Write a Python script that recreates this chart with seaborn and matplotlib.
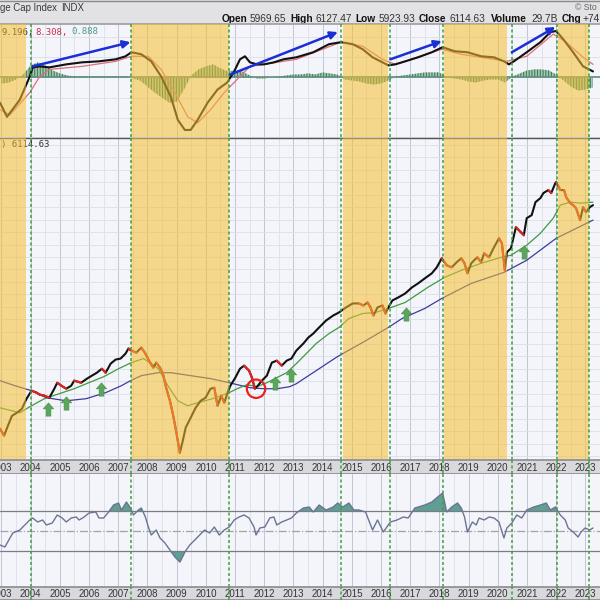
import numpy as np
import matplotlib.pyplot as plt
from matplotlib.path import Path
from matplotlib.ticker import FixedLocator, NullLocator
import seaborn as sns

sns.set_theme(style='white')
plt.rcParams['font.family'] = ['Liberation Sans', 'DejaVu Sans']
plt.rcParams['hatch.linewidth'] = 0.8

# --- weekly close (log scale) ---
price_t = [2002.95, 2003.09, 2003.22, 2003.36, 2003.53, 2003.70, 2003.86, 2004.03, 2004.20, 2004.31,
           2004.47, 2004.64, 2004.81, 2004.91, 2005.05, 2005.22, 2005.39, 2005.49, 2005.73, 2005.93,
           2006.10, 2006.27, 2006.44, 2006.57, 2006.74, 2006.91, 2007.08, 2007.25, 2007.35, 2007.45,
           2007.62, 2007.79, 2007.93, 2008.09, 2008.20, 2008.30, 2008.43, 2008.53, 2008.64, 2008.77,
           2008.87, 2008.98, 2009.11, 2009.21, 2009.31, 2009.48, 2009.65, 2009.82, 2009.99, 2010.16,
           2010.29, 2010.40, 2010.53, 2010.63, 2010.77, 2010.84, 2011.01, 2011.17, 2011.31, 2011.48,
           2011.58, 2011.68, 2011.78, 2011.92, 2012.09, 2012.26, 2012.43, 2012.60, 2012.77, 2012.93,
           2013.10, 2013.34, 2013.51, 2013.68, 2013.88, 2014.12, 2014.36, 2014.56, 2014.80, 2015.03,
           2015.24, 2015.40, 2015.54, 2015.64, 2015.74, 2015.88, 2016.05, 2016.15, 2016.25, 2016.39,
           2016.59, 2016.83, 2017.06, 2017.27, 2017.50, 2017.74, 2017.91, 2018.08, 2018.25, 2018.42,
           2018.59, 2018.75, 2018.86, 2018.96, 2019.09, 2019.19, 2019.30, 2019.43, 2019.53, 2019.70,
           2019.87, 2020.04, 2020.14, 2020.24, 2020.31, 2020.45, 2020.62, 2020.79, 2020.89, 2020.99,
           2021.16, 2021.29, 2021.46, 2021.56, 2021.73, 2021.83, 2021.97, 2022.00, 2022.14, 2022.27,
           2022.34, 2022.48, 2022.58, 2022.68, 2022.82, 2022.92, 2023.02, 2023.15, 2023.26]
price_close = [813, 773, 830, 892, 912, 938, 1009, 1069, 1054, 1039,
               1031, 1016, 1084, 1132, 1108, 1084, 1108, 1149, 1132, 1166,
               1191, 1217, 1252, 1217, 1299, 1337, 1347, 1396, 1448, 1427,
               1406, 1458, 1396, 1308, 1262, 1308, 1262, 1209, 1092, 994,
               905, 801, 683, 745, 819, 879, 945, 994, 1016, 1084,
               1092, 959, 1031, 980, 1069, 1108, 1174, 1252, 1280, 1235,
               1174, 1084, 1108, 1149, 1191, 1308, 1327, 1280, 1327, 1347,
               1427, 1501, 1567, 1613, 1685, 1772, 1836, 1877, 1946, 2003,
               2003, 1974, 2018, 1946, 1836, 1946, 1974, 1863, 1946, 2047,
               2091, 2153, 2248, 2314, 2399, 2488, 2598, 2772, 2636, 2598,
               2694, 2772, 2674, 2488, 2674, 2733, 2792, 2694, 2874, 2792,
               3001, 3202, 3089, 2542, 2895, 2980, 3468, 3344, 3273, 3701,
               3782, 4153, 4276, 4433, 4530, 4433, 4765, 4799, 4530, 4530,
               4306, 4124, 4064, 3977, 3648, 4006, 3865, 4006, 4064]

# fast moving average (green)
sma_fast_t = [2002.95, 2003.63, 2004.03, 2004.47, 2004.98, 2005.49, 2005.99, 2006.51, 2007.01, 2007.45,
              2007.86, 2008.09, 2008.37, 2008.70, 2009.04, 2009.38, 2009.72, 2010.23, 2010.80, 2011.07,
              2011.41, 2011.75, 2012.09, 2012.43, 2012.77, 2013.10, 2013.44, 2013.78, 2014.22, 2014.56,
              2014.90, 2015.37, 2015.81, 2016.25, 2016.83, 2017.60, 2018.18, 2018.75, 2019.43, 2020.11,
              2020.45, 2020.99, 2021.46, 2021.90, 2022.14, 2022.48, 2022.82, 2023.26]
sma_fast = [945, 912, 959, 1009, 1046, 1084, 1132, 1183, 1252, 1308,
            1347, 1308, 1252, 1108, 994, 959, 980, 1009, 1054, 1084,
            1116, 1100, 1132, 1174, 1217, 1299, 1396, 1501, 1613, 1685,
            1797, 1863, 1877, 1932, 2018, 2248, 2417, 2542, 2674, 2792,
            2833, 3045, 3320, 3701, 4064, 4153, 4124, 4153]

# slow moving average (navy)
sma_slow_t = [2002.95, 2003.46, 2004.03, 2004.54, 2005.22, 2005.90, 2006.57, 2007.11, 2007.42, 2007.79,
              2008.37, 2008.80, 2009.48, 2010.16, 2010.80, 2011.51, 2011.99, 2012.43, 2012.87, 2013.10,
              2013.78, 2014.46, 2014.69, 2015.37, 2016.25, 2016.72, 2017.50, 2018.08, 2019.09, 2020.21,
              2020.99, 2022.00, 2023.26]
sma_slow = [1149, 1108, 1069, 1016, 994, 1009, 1054, 1108, 1149, 1191,
            1217, 1217, 1191, 1166, 1132, 1092, 1084, 1084, 1100, 1124,
            1235, 1357, 1396, 1512, 1685, 1797, 1932, 2076, 2314, 2505,
            2733, 3202, 3648]

# MACD panel
macd_t = [2002.95, 2003.19, 2003.63, 2003.97, 2004.07, 2004.31, 2004.64, 2005.22, 2005.76, 2006.34,
          2006.91, 2007.25, 2007.45, 2007.79, 2008.13, 2008.47, 2008.80, 2009.04, 2009.28, 2009.48,
          2009.72, 2010.06, 2010.40, 2010.73, 2010.97, 2011.17, 2011.34, 2011.51, 2011.75, 2011.99,
          2012.33, 2012.66, 2013.10, 2013.68, 2014.22, 2014.63, 2015.03, 2015.37, 2015.71, 2016.05,
          2016.25, 2016.49, 2016.83, 2017.27, 2017.74, 2018.11, 2018.52, 2018.96, 2019.43, 2019.87,
          2020.21, 2020.38, 2020.55, 2020.99, 2021.46, 2021.80, 2022.00, 2022.24, 2022.58, 2022.92,
          2023.26]
macd_line = [-25, -39, -22, 1, 10, 11, 10, 13, 15, 16,
             18, 21, 25, 23, 16, 1, -19, -42, -52, -52,
             -42, -25, -12, -5, 6, 18, 21, 15, 13, 13,
             15, 18, 20, 25, 33, 35, 33, 28, 20, 15,
             12, 13, 16, 20, 25, 30, 26, 25, 21, 20,
             16, 13, 16, 25, 35, 45, 46, 38, 25, 11,
             6]
signal_t = [2002.95, 2003.29, 2003.97, 2004.31, 2004.64, 2005.76, 2006.91, 2007.45, 2008.03, 2008.47,
            2008.94, 2009.38, 2009.72, 2010.16, 2010.63, 2011.07, 2011.51, 2011.99, 2013.10, 2014.63,
            2015.37, 2016.05, 2016.49, 2018.08, 2018.75, 2020.31, 2020.99, 2021.90, 2022.34, 2022.92,
            2023.26]
signal_line = [-32, -37, -15, 1, 8, 11, 16, 21, 21, 8,
               -15, -39, -45, -32, -15, -2, 11, 13, 18, 35,
               31, 18, 13, 28, 23, 16, 21, 43, 35, 20,
               13]
hist_t = np.arange(2003.0, 2023.3, 0.25)
hist_vals = [-6, -5, -2, 3, 12, 15, 12, 7, 4, 2, 1, 1, 1, 1, 1, 1,
             1, 1, -1, -3, -9, -15, -20, -25, -24, -12, 2, 8, 11, 13, 9, 6,
             7, 6, 2, -1, -1, 0, 1, 2, 3, 3, 4, 3, 5, 4, 3, -2,
             -3, -4, -6, -7, -6, -3, 1, 2, 3, 4, 5, 5, 5, 0, -1, -2,
             -4, -5, -3, -2, -2, -5, 1, 4, 7, 8, 8, 7, 3, -3, -9, -13,
             -12, -10]

# RSI panel
rsi_t = [2002.95, 2003.12, 2003.29, 2003.39, 2003.63, 2003.80, 2003.97, 2004.07, 2004.24, 2004.41,
         2004.54, 2004.74, 2004.91, 2005.08, 2005.22, 2005.39, 2005.56, 2005.66, 2005.83, 2006.00,
         2006.23, 2006.34, 2006.50, 2006.67, 2006.84, 2007.01, 2007.11, 2007.28, 2007.42, 2007.52,
         2007.69, 2007.79, 2007.93, 2008.03, 2008.13, 2008.30, 2008.43, 2008.60, 2008.77, 2008.94,
         2009.11, 2009.28, 2009.45, 2009.62, 2009.79, 2009.96, 2010.13, 2010.29, 2010.46, 2010.63,
         2010.80, 2010.97, 2011.14, 2011.31, 2011.48, 2011.65, 2011.72, 2011.85, 2012.02, 2012.19,
         2012.33, 2012.43, 2012.60, 2012.77, 2012.93, 2013.10, 2013.34, 2013.54, 2013.68, 2013.88,
         2014.12, 2014.36, 2014.52, 2014.69, 2014.90, 2015.07, 2015.24, 2015.47, 2015.71, 2015.88,
         2016.08, 2016.32, 2016.55, 2016.76, 2016.93, 2017.16, 2017.50, 2017.74, 2017.94, 2018.11,
         2018.25, 2018.42, 2018.62, 2018.75, 2018.86, 2018.96, 2019.13, 2019.26, 2019.36, 2019.53,
         2019.70, 2019.87, 2020.04, 2020.21, 2020.31, 2020.48, 2020.65, 2020.82, 2020.99, 2021.23,
         2021.46, 2021.66, 2021.80, 2021.97, 2022.14, 2022.31, 2022.41, 2022.58, 2022.75, 2022.85,
         2022.99, 2023.15, 2023.26]
rsi_vals = [36, 34, 43, 48, 51, 56, 61, 63, 59, 61,
            56, 58, 66, 63, 59, 63, 64, 61, 64, 68,
            69, 63, 63, 69, 76, 78, 71, 79, 73, 66,
            71, 73, 64, 54, 46, 51, 43, 38, 31, 24,
            19, 29, 36, 41, 46, 51, 48, 54, 46, 51,
            54, 61, 64, 66, 63, 54, 46, 53, 54, 63,
            64, 56, 59, 61, 63, 68, 73, 74, 69, 76,
            71, 74, 78, 74, 78, 71, 71, 69, 51, 61,
            49, 59, 61, 64, 63, 73, 76, 79, 84, 88,
            69, 74, 78, 73, 64, 49, 59, 56, 63, 61,
            64, 63, 59, 43, 53, 58, 66, 63, 71, 74,
            76, 78, 71, 74, 66, 61, 53, 49, 44, 49,
            53, 51, 53]

# signals / annotations
signal_dates = [2004.00, 2007.42, 2010.80, 2014.63, 2016.32, 2018.11, 2020.48, 2022.04, 2023.12]
sell_start = [2002.95, 2007.45, 2014.69, 2018.15, 2022.07]
sell_end = [2003.83, 2010.80, 2016.25, 2020.31, 2023.12]
buy_arrow_t = [2004.58, 2005.22, 2006.40, 2012.36, 2012.93, 2016.86, 2020.89]
buy_arrow_p = [938, 980, 1084, 1132, 1200, 1863, 2895]
trend_t0 = [2004.07, 2010.84, 2016.32, 2020.48]
trend_v0 = [11, 3, 18, 25]
trend_t1 = [2007.42, 2014.52, 2018.08, 2021.97]
trend_v1 = [35, 45, 36, 50]
circle_t = [2011.72]
circle_p = [1084]
years = list(range(2003, 2024))
quote_labels = ['Open', 'High', 'Low', 'Close', 'Volume', 'Chg']
quote_values = ['5969.65', '6127.47', '5923.93', '6114.63', '29.7B', '+74']

X0, X1 = 2002.95, 2023.26
BG = '#f4f5fa'
SELL = '#f5bf31'
DASH = '#3f9f3f'

fig = plt.figure(figsize=(6, 6), dpi=100)
fig.patch.set_facecolor('#e2e2e5')


def band(top, bottom):
    # axes placed by pixel rows of the 600px image
    return fig.add_axes([0, 1 - bottom / 600, 1, (bottom - top) / 600])


head = band(0, 24)
ax_macd = band(24, 137)
ax_price = band(138, 460)
strip1 = band(460, 474)
ax_rsi = band(474, 587)
strip2 = band(587, 600)

for ax in (ax_macd, ax_price, ax_rsi, strip1, strip2):
    ax.set_xlim(X0, X1)
    ax.set_xticks(years)
    ax.set_xticks(np.array(years) + 0.5, minor=True)
    ax.tick_params(which='both', length=0, labelbottom=False, labelleft=False)
    for s in ax.spines.values():
        s.set_visible(False)

for ax in (ax_macd, ax_price, ax_rsi):
    ax.set_facecolor(BG)
    ax.grid(which='major', axis='x', color='#c3c6d2', lw=0.7)
    ax.grid(which='minor', axis='x', color='#dcdfe8', lw=0.6)
    ax.set_axisbelow(True)

# --- header ---
head.set_xlim(0, 600)
head.set_ylim(24, 0)
head.axis('off')
head.axhline(0.5, color='#8a8a8e', lw=1)
head.text(0, 8, 'ge Cap Index', fontsize=6.9, color='#3a3a3a', va='center')
head.text(61, 8, 'INDX', fontsize=6.9, color='#3a3a3a', va='center')
head.text(575, 8, '\u00a9 Sto', fontsize=6.3, color='#666666', va='center')
label_x = [222, 290, 355, 419, 491, 562]
value_x = [250, 316, 379, 449, 531, 582]
for lab, val, lx, vx in zip(quote_labels, quote_values, label_x, value_x):
    head.text(lx, 19.5, lab, fontsize=7.3, fontweight='bold', color='#111111', va='center')
    head.text(vx, 19.5, val, fontsize=7.3, color='#333333', va='center')

# --- MACD panel ---
ax_macd.set_ylim(-59, 53)
ax_macd.set_yticks([-40, -20, 20, 40])
ax_macd.grid(axis='y', color='#dcdfe8', lw=0.6)
ax_macd.spines['top'].set_visible(True)
ax_macd.spines['top'].set_color('#a0a0a6')
ax_macd.fill_between(hist_t, 0, hist_vals, facecolor='#a5c9b1', edgecolor='#3f7d5c',
                     hatch='||||||', lw=0, zorder=2)
ax_macd.axhline(0, color='#5f8c80', lw=1.2, zorder=2.5)
sns.lineplot(x=signal_t, y=signal_line, ax=ax_macd, color='#e06c78', lw=0.9, zorder=3)
sns.lineplot(x=macd_t, y=macd_line, ax=ax_macd, color='#111111', lw=1.5, zorder=3.2)
for t0, v0, t1, v1 in zip(trend_t0, trend_v0, trend_t1, trend_v1):
    ax_macd.annotate('', xy=(t1, v1), xytext=(t0, v0), zorder=7,
                     arrowprops=dict(arrowstyle='-|>', color='#1a2fd6', lw=1.8,
                                     mutation_scale=11, shrinkA=0, shrinkB=0))
macd_frac = (137 - 32) / 113
ax_macd.text(1 / 600, macd_frac, '9.196,', transform=ax_macd.transAxes, family='DejaVu Sans Mono',
             fontsize=6.5, color='#222222', va='center', zorder=4)
ax_macd.text(35 / 600, macd_frac, '8.308,', transform=ax_macd.transAxes, family='DejaVu Sans Mono',
             fontsize=6.5, color='#c0304a', va='center', zorder=4)
ax_macd.text(71 / 600, macd_frac, '0.888', transform=ax_macd.transAxes, family='DejaVu Sans Mono',
             fontsize=6.5, color='#4f9a8a', va='center', zorder=4)

# --- price panel ---
ax_price.set_yscale('log')
ax_price.set_ylim(649, 6590)
price_grid = 6590 / 1.0937 ** (np.arange(26) + 0.56)
ax_price.yaxis.set_major_locator(FixedLocator(price_grid))
ax_price.yaxis.set_minor_locator(NullLocator())
ax_price.tick_params(which='both', length=0, labelleft=False)
ax_price.grid(axis='y', color='#dcdfe8', lw=0.6)
ax_price.spines['top'].set_visible(True)
ax_price.spines['top'].set_color('#555555')
ax_price.spines['top'].set_linewidth(1.0)

sns.lineplot(x=sma_slow_t, y=sma_slow, ax=ax_price, color='#3c3c9c', lw=0.9, zorder=2.6)
sns.lineplot(x=sma_fast_t, y=sma_fast, ax=ax_price, color='#3e9a3e', lw=0.9, zorder=2.7)
sns.lineplot(x=price_t, y=price_close, ax=ax_price, color='#111111', lw=1.5, zorder=3)
for i in range(len(price_t) - 1):
    if price_close[i + 1] < price_close[i]:
        ax_price.plot(price_t[i:i + 2], price_close[i:i + 2], color='#e3231e', lw=1.5,
                      zorder=3.1, solid_capstyle='round')

up_arrow = Path([(0, 1), (-0.78, 0.1), (-0.36, 0.1), (-0.36, -1), (0.36, -1), (0.36, 0.1),
                 (0.78, 0.1), (0, 1)],
                [Path.MOVETO] + [Path.LINETO] * 6 + [Path.CLOSEPOLY])
ax_price.scatter(buy_arrow_t, buy_arrow_p, marker=up_arrow, s=90, color='#5aa65a',
                 edgecolors='#4a944a', linewidths=0.5, zorder=7)
ax_price.scatter(circle_t, circle_p, marker='o', s=175, facecolors='none',
                 edgecolors='#e5231f', linewidths=1.6, zorder=7)
ax_price.text(1 / 600, (460 - 145) / 322, ') 6114.63', transform=ax_price.transAxes,
              family='DejaVu Sans Mono', fontsize=6.5, color='#333333', va='center', zorder=4)

# sell periods shaded over the MACD and price panels
for ax in (ax_macd, ax_price):
    for s, e in zip(sell_start, sell_end):
        ax.axvspan(s, e, color=SELL, alpha=0.55, lw=0, zorder=5)

# --- RSI panel ---
rsi_t_arr = np.array(rsi_t)
rsi_arr = np.array(rsi_vals, dtype=float)
ax_rsi.set_ylim(-6, 107)
ax_rsi.fill_between(rsi_t_arr, rsi_arr, 70, where=rsi_arr > 70, interpolate=True,
                    color='#5e9e93', lw=0, zorder=2)
ax_rsi.fill_between(rsi_t_arr, rsi_arr, 30, where=rsi_arr < 30, interpolate=True,
                    color='#5e9e93', lw=0, zorder=2)
ax_rsi.axhline(70, color='#7c7c84', lw=0.9, zorder=2.2)
ax_rsi.axhline(30, color='#7c7c84', lw=0.9, zorder=2.2)
ax_rsi.axhline(50, color='#a2a2a8', lw=0.9, ls='-.', zorder=2.2)
sns.lineplot(x=rsi_t, y=rsi_vals, ax=ax_rsi, color='#6b7494', lw=1.0, zorder=3)

# --- date strips ---
for strip in (strip1, strip2):
    strip.set_facecolor('#d9d9dd')
    strip.set_ylim(0, 1)
    for side in ('top', 'bottom'):
        strip.spines[side].set_visible(True)
        strip.spines[side].set_color('#8e8e95')
    for yr in years:
        strip.text(yr, 0.45, str(yr), fontsize=7, color='#353535', ha='center', va='center')

for ax in (ax_macd, ax_price, ax_rsi, strip1, strip2):
    for d in signal_dates:
        ax.axvline(d, color=DASH, ls=(0, (2.0, 1.6)), lw=1.1, zorder=6)

fig.savefig('out.png', dpi=100)
